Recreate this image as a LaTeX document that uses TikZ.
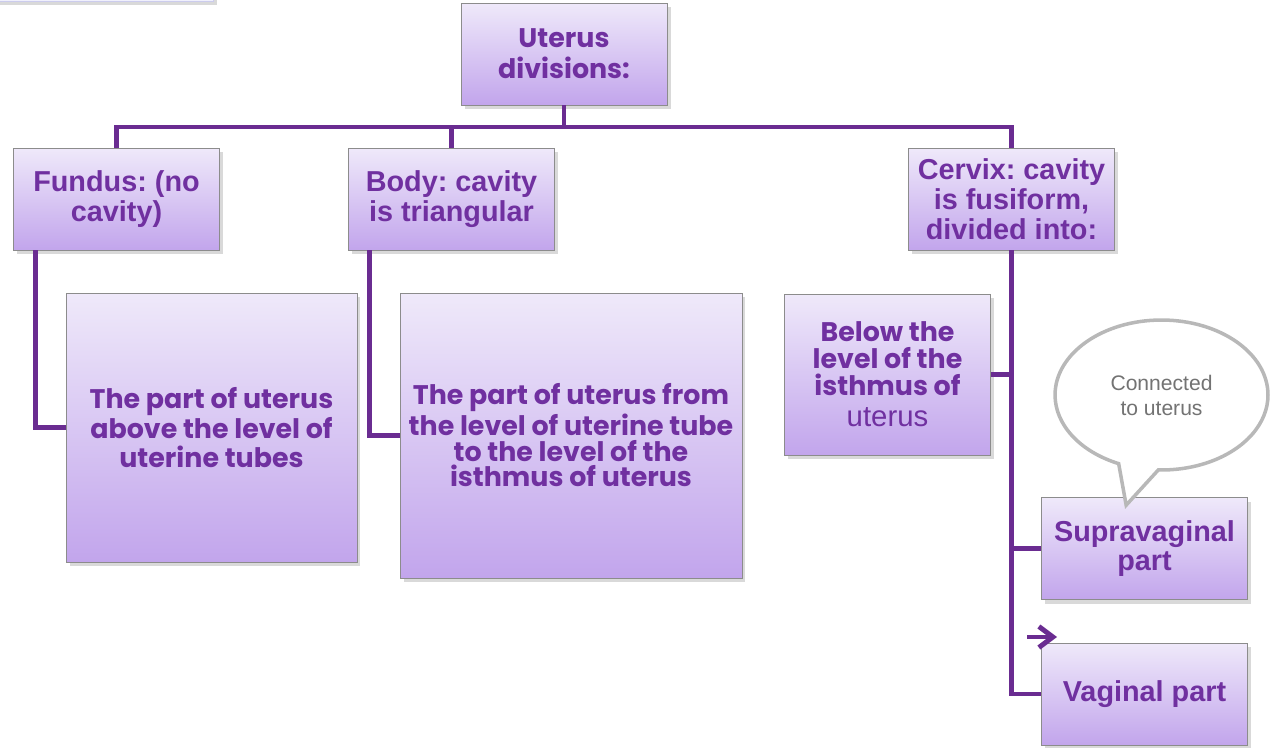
\documentclass[tikz,border=0pt]{standalone}
\usepackage{fontspec}
\setmainfont{Liberation Sans}
\newfontfamily\geofont{Poppins}
\usetikzlibrary{shadows,shapes.callouts,arrows.meta}
\frenchspacing

\definecolor{plum}{HTML}{7030A0}
\definecolor{linkplum}{HTML}{6A2C91}
\definecolor{boxtop}{HTML}{EFE9FA}
\definecolor{boxbottom}{HTML}{C2A5EC}

\begin{document}
\begin{tikzpicture}[
  x=0.02cm, y=-0.02cm,
  box/.style={rectangle, draw=black!45, top color=boxtop, bottom color=boxbottom,
    minimum width=4.12cm, minimum height=2.04cm, inner sep=2pt, align=center, text=plum,
    font=\fontsize{16.4}{17}\selectfont\bfseries,
    drop shadow={shadow xshift=2pt, shadow yshift=-2.5pt, opacity=0.3}},
  detail/.style={box, font=\geofont\fontsize{15.3}{14.7}\selectfont\bfseries},
  link/.style={draw=linkplum, line width=2.8pt},
  bubble/.style={ellipse callout, draw=black!28, line width=2pt, fill=white,
    minimum width=4.26cm, minimum height=3cm, callout pointer arc=22,
    align=center, text=black!55, font=\fontsize{12}{14.2}\selectfont}
]
\useasboundingbox (0,0) rectangle (1270,747);

% box cut off at the top edge
\draw[draw=black!35!blue!20, fill=black!18!blue!6,
  drop shadow={shadow xshift=2pt, shadow yshift=-2.5pt, opacity=0.3}] (-10,-40) rectangle (213,1);

% Nodes
\node[detail, font=\geofont\fontsize{15.3}{17.6}\selectfont\bfseries] (uterus) at (564,54) {Uterus\\divisions:};

\node[box] (fundus) at (116.5,199) {Fundus: (no\\cavity)};
\node[box] (body) at (451.5,199) {Body: cavity\\is triangular};
\node[box] (cervix) at (1011.5,199) {Cervix: cavity\\is fusiform,\\divided into:};

\node[detail, minimum width=5.82cm, minimum height=5.38cm] (fundusdet) at (211.5,427.5)
  {The part of uterus\\above the level of\\[1.5pt]uterine tubes};
\node[detail, minimum width=6.84cm, minimum height=5.7cm] (bodydet) at (571,435.5)
  {The part of uterus from\\the level of uterine tube\\to the level of the\\isthmus of uterus};
\node[detail, minimum height=3.22cm, font=\geofont\fontsize{15.3}{15.3}\selectfont\bfseries] (below) at (887.5,374.5)
  {Below the\\level of the\\isthmus of\\[2.5pt]{\mdseries\fontspec{Liberation Sans}\fontsize{16.7}{15.3}\selectfont uterus}};

\node[box] (supra) at (1144.5,548.5) {Supravaginal\\part};
\node[box] (vaginal) at (1144.5,694) {Vaginal part};

\node[bubble, callout absolute pointer={([xshift=1.7cm, yshift=-0.16cm]supra.north west)}] (note) at (1161.5,395)
  {Connected\\to uterus};

% Edges
\coordinate (bus) at (564,127);
\draw[link] (uterus) -- (bus);
\draw[link] (bus) -| (fundus.north);
\draw[link] (bus) -| (body.north);
\draw[link] (bus) -| (cervix.north);

\draw[link] ([xshift=0.44cm]fundus.south west) |- (fundusdet.west);
\draw[link] ([xshift=0.42cm]body.south west) |- (bodydet.west);

\draw[link] (cervix.south) |- (vaginal.west);
\draw[link] (below.east) -- (below.east -| cervix.south);
\draw[link] (cervix.south |- supra.west) -- (supra.west);

% stray arrow
\coordinate (strayA) at (1027,637);
\coordinate (strayB) at (1057,637);
\draw[link, -{Straight Barb[length=8pt, width=12pt]}] (strayA) -- (strayB);

\end{tikzpicture}
\end{document}
